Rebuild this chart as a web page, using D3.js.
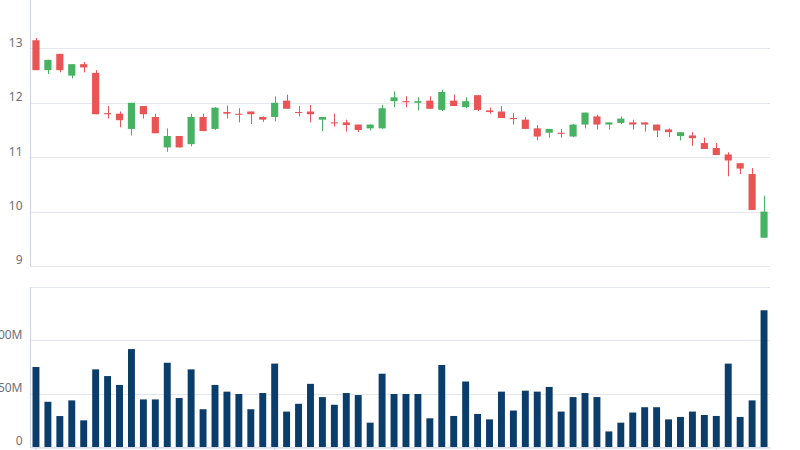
<!DOCTYPE html>
<html lang="en">
<head>
<meta charset="utf-8">
<title>Candlestick with volume</title>
<script src="https://cdn.jsdelivr.net/npm/d3@7"></script>
<style>
  body { margin: 0; background: #fff; }
  svg text { font-family: "Noto Sans", "DejaVu Sans", sans-serif; font-size: 12px; fill: #6e7079; }
  .grid line { stroke: #e4e7ee; stroke-width: 1; }
  .axis path, .axis line { stroke: #ccd3ec; }
</style>
</head>
<body>
<script>
// trading days
var dates = ["2024-02-01","2024-02-02","2024-02-05","2024-02-06","2024-02-07","2024-02-08","2024-02-09","2024-02-12","2024-02-13","2024-02-14",
  "2024-02-15","2024-02-16","2024-02-20","2024-02-21","2024-02-22","2024-02-23","2024-02-26","2024-02-27","2024-02-28","2024-02-29",
  "2024-03-01","2024-03-04","2024-03-05","2024-03-06","2024-03-07","2024-03-08","2024-03-11","2024-03-12","2024-03-13","2024-03-14",
  "2024-03-15","2024-03-18","2024-03-19","2024-03-20","2024-03-21","2024-03-22","2024-03-25","2024-03-26","2024-03-27","2024-03-28",
  "2024-04-01","2024-04-02","2024-04-03","2024-04-04","2024-04-05","2024-04-08","2024-04-09","2024-04-10","2024-04-11","2024-04-12",
  "2024-04-15","2024-04-16","2024-04-17","2024-04-18","2024-04-19","2024-04-22","2024-04-23","2024-04-24","2024-04-25","2024-04-26",
  "2024-04-29","2024-04-30"];

var open = [12.60,12.79,12.60,12.71,12.65,11.79,11.79,11.68,12.00,11.79,
  11.44,11.39,11.18,11.74,11.48,11.91,11.80,11.78,11.79,11.69,
  12.00,11.89,11.82,11.79,11.74,11.62,11.59,11.50,11.60,11.90,
  12.10,12.01,12.03,11.89,12.20,11.94,12.03,11.87,11.83,11.72,
  11.70,11.52,11.38,11.52,11.43,11.60,11.82,11.60,11.64,11.71,
  11.60,11.60,11.49,11.46,11.46,11.35,11.15,11.04,10.94,10.79,
  10.03,10.00];
var close = [13.15,12.60,12.90,12.50,12.71,12.55,11.81,11.80,11.52,11.94,
  11.74,11.18,11.39,11.24,11.74,11.52,11.83,11.80,11.84,11.74,
  11.74,12.04,11.83,11.84,11.69,11.64,11.64,11.60,11.53,11.53,
  12.03,12.03,12.00,12.04,11.87,12.04,11.92,12.14,11.86,11.84,
  11.72,11.69,11.53,11.45,11.45,11.38,11.60,11.75,11.60,11.63,
  11.64,11.64,11.60,11.51,11.39,11.40,11.26,11.17,11.05,10.89,
  10.69,9.52];
var high = [13.19,12.79,12.90,12.71,12.75,12.60,11.94,11.84,12.00,11.94,
  11.80,11.53,11.39,11.80,11.80,11.92,11.95,11.90,11.84,11.75,
  12.12,12.15,11.94,11.96,11.74,11.80,11.69,11.60,11.60,11.96,
  12.21,12.12,12.10,12.12,12.24,12.15,12.10,12.14,11.91,11.94,
  11.81,11.74,11.59,11.52,11.52,11.61,11.82,11.78,11.64,11.75,
  11.69,11.64,11.60,11.53,11.46,11.46,11.36,11.26,11.09,10.89,
  10.80,10.29];
var low = [12.60,12.53,12.56,12.45,12.56,11.79,11.71,11.55,11.40,11.71,
  11.44,11.10,11.18,11.20,11.48,11.50,11.71,11.64,11.61,11.65,
  11.66,11.89,11.75,11.64,11.48,11.56,11.47,11.46,11.49,11.52,
  11.92,11.92,11.86,11.89,11.85,11.94,11.90,11.85,11.80,11.72,
  11.60,11.52,11.31,11.36,11.36,11.37,11.53,11.51,11.51,11.61,
  11.51,11.47,11.37,11.37,11.31,11.21,11.15,11.04,10.65,10.69,
  10.03,9.52];
// volume in millions
var volume = [75.0,42.4,29.0,43.7,25.0,72.8,66.5,58.2,91.8,44.6,
  44.6,79.0,45.9,72.8,35.4,58.2,51.9,49.7,35.4,50.6,
  78.2,33.2,40.5,59.2,46.8,39.6,50.6,48.7,22.8,68.7,
  49.7,49.7,49.7,26.9,76.9,29.1,61.4,31.0,25.9,51.9,
  34.2,52.8,51.9,56.3,33.2,46.8,50.6,46.8,14.6,22.8,
  32.3,37.3,37.3,25.9,28.2,33.2,30.0,29.1,78.2,28.2,
  43.7,128.2];

var priceTicks = [9, 10, 11, 12, 13];
var volTicks = [0, 50, 100];
var volGrid = [0, 50, 100, 150];
var xTickIdx = [0, 10, 20, 30, 37, 47, 57];

var W = 800, H = 450;
var left = 30, right = 770;
var priceTop = -6, priceBottom = 266;
var volTop = 287, volBottom = 447;

var idx = d3.range(dates.length);

var svg = d3.select("body").append("svg")
  .attr("width", W)
  .attr("height", H);

var x = d3.scaleBand()
  .domain(idx)
  .range([left, right])
  .padding(0);

var y = d3.scaleLinear().domain([9, 14]).range([priceBottom, priceTop]);
var yv = d3.scaleLinear().domain([0, 150]).range([volBottom, volTop]);

var up = "#eb5454", down = "#47b262";

// grid lines
svg.append("g").attr("class", "grid")
  .selectAll("line").data(priceTicks).enter().append("line")
  .attr("x1", left).attr("x2", right)
  .attr("y1", function(d) { return Math.round(y(d)) + 0.5; })
  .attr("y2", function(d) { return Math.round(y(d)) + 0.5; });

svg.append("g").attr("class", "grid")
  .selectAll("line").data(volGrid).enter().append("line")
  .attr("x1", left).attr("x2", right)
  .attr("y1", function(d) { return Math.round(yv(d)) + 0.5; })
  .attr("y2", function(d) { return Math.round(yv(d)) + 0.5; });

// left axes (labels sit just above their lines)
var yAxis = d3.axisLeft(y).tickValues(priceTicks).tickSize(0).tickPadding(8)
  .tickFormat(d3.format("d"));
var gy = svg.append("g").attr("class", "axis")
  .attr("transform", "translate(" + (left + 0.5) + ",0)")
  .call(yAxis);
gy.select(".domain").attr("d", "M0," + priceTop + "V" + priceBottom);
gy.selectAll("text").attr("dy", "-0.18em");

var yvAxis = d3.axisLeft(yv).tickValues(volTicks).tickSize(0).tickPadding(8)
  .tickFormat(function(d) { return d === 0 ? "0" : d + "M"; });
var gyv = svg.append("g").attr("class", "axis")
  .attr("transform", "translate(" + (left + 0.5) + ",0)")
  .call(yvAxis);
gyv.select(".domain").attr("d", "M0," + volTop + "V" + volBottom);
gyv.selectAll("text").attr("dy", "-0.18em");

// bottom axis under the volume panel (date labels fall below the frame)
var xAxis = d3.axisBottom(x).tickValues(xTickIdx).tickSize(4).tickSizeOuter(0)
  .tickFormat(function(i) { return dates[i]; });
svg.append("g").attr("class", "axis")
  .attr("transform", "translate(0," + (volBottom + 0.5) + ")")
  .call(xAxis);

// candles
var bw = x.bandwidth();
var cw = bw * 0.6;
var candles = svg.append("g").selectAll("g").data(idx).enter().append("g");

candles.append("line")
  .attr("x1", function(i) { return Math.round(x(i) + bw / 2) + 0.5; })
  .attr("x2", function(i) { return Math.round(x(i) + bw / 2) + 0.5; })
  .attr("y1", function(i) { return y(high[i]); })
  .attr("y2", function(i) { return y(low[i]); })
  .attr("stroke", function(i) { return close[i] >= open[i] ? up : down; })
  .attr("stroke-width", 1);

candles.append("rect")
  .attr("x", function(i) { return x(i) + (bw - cw) / 2; })
  .attr("y", function(i) { return y(Math.max(open[i], close[i])); })
  .attr("width", cw)
  .attr("height", function(i) { return Math.max(1, Math.abs(y(open[i]) - y(close[i]))); })
  .attr("fill", function(i) { return close[i] >= open[i] ? up : down; });

// volume bars
var vw = bw * 0.58;
svg.append("g").selectAll("rect").data(idx).enter().append("rect")
  .attr("x", function(i) { return x(i) + (bw - vw) / 2; })
  .attr("y", function(i) { return yv(volume[i]); })
  .attr("width", vw)
  .attr("height", function(i) { return volBottom - yv(volume[i]); })
  .attr("fill", "#0b3d6b");
</script>
</body>
</html>
